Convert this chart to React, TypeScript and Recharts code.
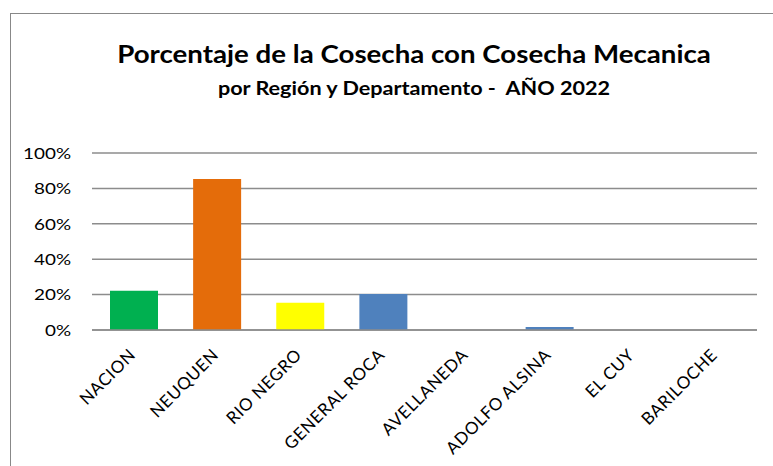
import { Bar, BarChart, CartesianGrid, Cell, XAxis, YAxis } from 'recharts';

const categories = [
  'NACION',
  'NEUQUEN',
  'RIO NEGRO',
  'GENERAL ROCA',
  'AVELLANEDA',
  'ADOLFO ALSINA',
  'EL CUY',
  'BARILOCHE',
];
const shares = [0.222, 0.853, 0.154, 0.203, 0, 0.017, 0, 0];
const barColors = [
  '#00B050',
  '#E46C0A',
  '#FFFF00',
  '#4F81BD',
  '#4F81BD',
  '#4F81BD',
  '#4F81BD',
  '#4F81BD',
];
const yTicks = [0, 0.2, 0.4, 0.6, 0.8, 1];

const rows = categories.map((name, i) => ({ name, value: shares[i] }));

const FONT = 'Lato, "Open Sans", sans-serif';

function SlantTick({ x, y, payload }: { x?: number; y?: number; payload?: { value: string } }) {
  const ax = (x ?? 0) + 3;
  const ay = (y ?? 0) + 24;
  return (
    <text
      x={ax}
      y={ay}
      transform={`rotate(-45, ${ax}, ${ay})`}
      textAnchor="end"
      fontFamily={FONT}
      fontSize={17}
      letterSpacing={0.6}
      fill="#000"
    >
      {payload?.value}
    </text>
  );
}

// the source picture is a bit stretched sideways, so the y labels are too
function PctTick({ x, y, payload }: { x?: number; y?: number; payload?: { value: number } }) {
  const tx = x ?? 0;
  const ty = y ?? 0;
  return (
    <text
      x={0}
      y={0}
      dy="0.36em"
      transform={`translate(${tx}, ${ty}) scale(1.18, 1)`}
      textAnchor="end"
      fontFamily={FONT}
      fontSize={16}
      fill="#000"
    >
      {`${Math.round((payload?.value ?? 0) * 100)}%`}
    </text>
  );
}

export default function App() {
  return (
    <div
      style={{
        position: 'absolute',
        left: 0,
        top: 0,
        width: 773,
        height: 466,
        background: '#fff',
        overflow: 'hidden',
        fontFamily: FONT,
      }}
    >
      <div
        style={{
          position: 'absolute',
          left: 10,
          top: 13,
          width: 800,
          height: 500,
          borderLeft: '1.5px solid #888',
          borderTop: '1.5px solid #888',
        }}
      />
      <div
        style={{
          position: 'absolute',
          left: 0,
          top: 38,
          width: 828,
          textAlign: 'center',
          fontWeight: 700,
          fontSize: 24,
          lineHeight: '32px',
          color: '#000',
          transform: 'scaleX(1.153)',
          transformOrigin: '414px 0',
        }}
      >
        Porcentaje de la Cosecha con Cosecha Mecanica
      </div>
      <div
        style={{
          position: 'absolute',
          left: 0,
          top: 76,
          width: 828,
          textAlign: 'center',
          fontWeight: 700,
          fontSize: 18,
          lineHeight: '24px',
          color: '#000',
          whiteSpace: 'pre',
          transform: 'scaleX(1.2)',
          transformOrigin: '414px 0',
        }}
      >
        {'por Región y Departamento -  AÑO 2022'}
      </div>
      <div style={{ position: 'absolute', left: 0, top: 0 }}>
        <BarChart
          width={773}
          height={466}
          data={rows}
          margin={{ top: 153, right: 16, bottom: 0, left: 0 }}
          barSize={48}
        >
          <CartesianGrid vertical={false} stroke="#8c8c8c" strokeWidth={1.5} />
          <XAxis
            dataKey="name"
            interval={0}
            height={136}
            tickSize={0}
            tickLine={false}
            axisLine={{ stroke: '#8c8c8c', strokeWidth: 1.5 }}
            tick={<SlantTick />}
          />
          <YAxis
            domain={[0, 1]}
            ticks={yTicks}
            width={92}
            tickSize={0}
            tickMargin={21}
            axisLine={false}
            tickLine={false}
            tick={<PctTick />}
          />
          <Bar dataKey="value" isAnimationActive={false}>
            {rows.map((_, i) => (
              <Cell key={i} fill={barColors[i]} />
            ))}
          </Bar>
        </BarChart>
      </div>
    </div>
  );
}
